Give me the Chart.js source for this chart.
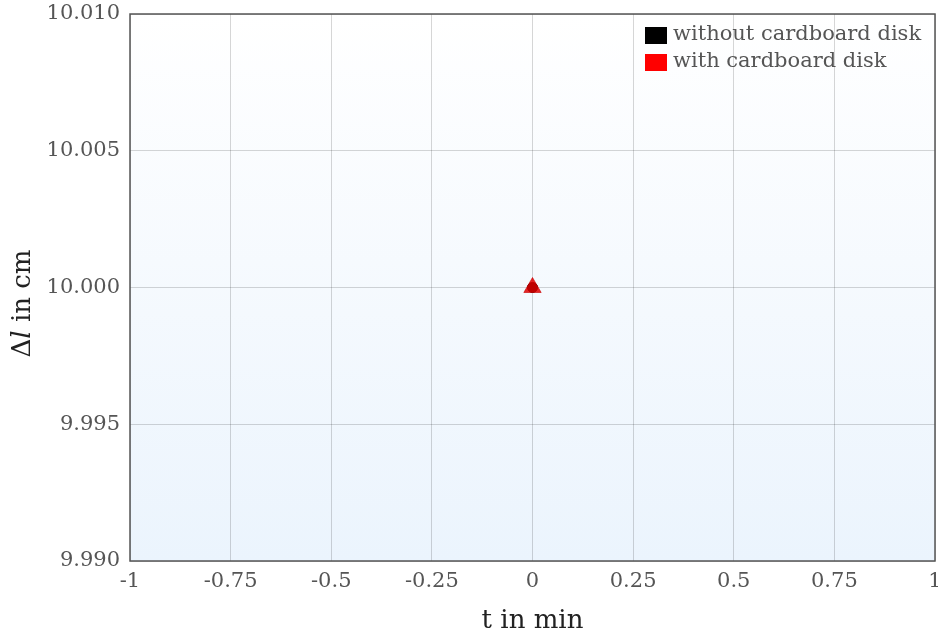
<!DOCTYPE html>
<html>
<head>
<meta charset="utf-8">
<script src="https://cdn.jsdelivr.net/npm/chart.js@4/dist/chart.umd.min.js"></script>
<style>
  html, body { margin: 0; padding: 0; background: #fff; overflow: hidden; }
  #wrap { width: 938px; height: 637px; overflow: hidden; }
</style>
</head>
<body>
<div id="wrap"><canvas id="lengthChart" width="946" height="637"></canvas></div>
<script>
// measured points (t in min, delta l in cm)
const withoutDiskT = [0];
const withoutDiskL = [10.0];
const withDiskT = [0];
const withDiskL = [10.0];

const xTicks = [-1, -0.75, -0.5, -0.25, 0, 0.25, 0.5, 0.75, 1];
const yTicks = [9.99, 9.995, 10.0, 10.005, 10.01];

const seriesLabels = ['without cardboard disk', 'with cardboard disk'];
const seriesColors = ['#000000', '#ff0000'];

const textColor = '#555555';
const serif = "'DejaVu Serif', 'Liberation Serif', serif";

const toPoints = (xs, ys) => xs.map((x, i) => ({ x: x, y: ys[i] }));

// gradient background, frame, legend and the mixed-style y title
const decorPlugin = {
  id: 'decor',
  beforeDraw(chart) {
    const { ctx, chartArea: a } = chart;
    const g = ctx.createLinearGradient(0, a.top, 0, a.bottom);
    g.addColorStop(0, '#ffffff');
    g.addColorStop(1, '#ebf4fd');
    ctx.save();
    ctx.fillStyle = g;
    ctx.fillRect(a.left, a.top, a.right - a.left, a.bottom - a.top);
    ctx.restore();
  },
  afterDraw(chart) {
    const { ctx, chartArea: a } = chart;
    ctx.save();
    ctx.strokeStyle = '#555';
    ctx.lineWidth = 1.5;
    ctx.strokeRect(a.left, a.top, a.right - a.left, a.bottom - a.top);

    // legend
    ctx.font = '21px ' + serif;
    ctx.textBaseline = 'middle';
    ctx.textAlign = 'left';
    chart.data.datasets.forEach((ds, i) => {
      const y = a.top + 21 + i * 27;
      ctx.fillStyle = seriesColors[i];
      ctx.fillRect(a.right - 290, y - 8, 22, 17);
      ctx.fillStyle = textColor;
      ctx.fillText(ds.label, a.right - 262, y);
    });

    // y axis title: "Δl in cm" with italic l
    ctx.translate(23, (a.top + a.bottom) / 2 + 16);
    ctx.rotate(-Math.PI / 2);
    const parts = [
      ['Δ', '26px ' + serif],
      ['l', 'italic 26px ' + serif],
      [' in cm', '26px ' + serif]
    ];
    let total = 0;
    parts.forEach(p => { ctx.font = p[1]; total += ctx.measureText(p[0]).width; });
    let x = -total / 2;
    ctx.fillStyle = '#222';
    parts.forEach(p => {
      ctx.font = p[1];
      ctx.fillText(p[0], x, 0);
      x += ctx.measureText(p[0]).width;
    });
    ctx.restore();
  }
};

const ctx = document.getElementById('lengthChart').getContext('2d');
new Chart(ctx, {
  type: 'scatter',
  data: {
    datasets: [
      {
        label: seriesLabels[0],
        data: toPoints(withoutDiskT, withoutDiskL),
        pointStyle: 'circle',
        pointRadius: 5,
        backgroundColor: seriesColors[0],
        borderColor: seriesColors[0],
        order: 1
      },
      {
        label: seriesLabels[1],
        data: toPoints(withDiskT, withDiskL),
        pointStyle: 'triangle',
        pointRadius: 10,
        backgroundColor: 'rgba(225, 0, 0, 0.85)',
        borderColor: 'rgba(200, 0, 0, 0.6)',
        borderWidth: 1,
        order: 0
      }
    ]
  },
  options: {
    responsive: false,
    animation: false,
    layout: { padding: { top: 14, right: 0, left: 0, bottom: 0 } },
    plugins: {
      legend: { display: false },
      tooltip: { enabled: false }
    },
    scales: {
      x: {
        type: 'linear',
        min: -1,
        max: 1,
        afterBuildTicks: (axis) => { axis.ticks = xTicks.map(v => ({ value: v })); },
        afterFit: (axis) => {
          axis.height = 76;
          axis.paddingLeft = 0;
          axis.paddingRight = 0;
        },
        grid: { color: 'rgba(0,0,0,0.16)', drawTicks: false },
        border: { display: false },
        ticks: {
          padding: 8,
          color: textColor,
          font: { family: serif, size: 21 },
          maxRotation: 0,
          callback: (v) => String(v)
        },
        title: {
          display: true,
          text: 't in min',
          color: '#222',
          font: { family: serif, size: 26 },
          padding: { top: 8, bottom: 0 }
        }
      },
      y: {
        type: 'linear',
        min: 9.99,
        max: 10.01,
        afterBuildTicks: (axis) => { axis.ticks = yTicks.map(v => ({ value: v })); },
        afterFit: (axis) => {
          axis.width = 130;
          axis.paddingTop = 0;
          axis.paddingBottom = 0;
        },
        grid: { color: 'rgba(0,0,0,0.16)', drawTicks: false },
        border: { display: false },
        ticks: {
          padding: 10,
          color: textColor,
          font: { family: serif, size: 21 },
          callback: (v) => Number(v).toFixed(3)
        }
      }
    }
  },
  plugins: [decorPlugin]
});
</script>
</body>
</html>
